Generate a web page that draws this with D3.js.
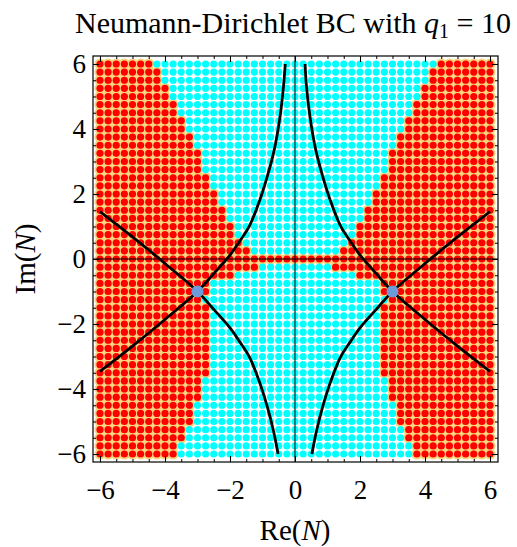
<!DOCTYPE html>
<html><head><meta charset="utf-8">
<script src="https://cdn.jsdelivr.net/npm/d3@7"></script>
<style>body{margin:0;background:#fff}svg{display:block}</style>
</head><body>
<svg id="c" width="517" height="547"></svg>
<script>
// ---- data ----
const gridValues = [-6,-5.75,-5.5,-5.25,-5,-4.75,-4.5,-4.25,-4,-3.75,-3.5,-3.25,-3,-2.75,-2.5,-2.25,-2,-1.75,-1.5,-1.25,-1,-0.75,-0.5,-0.25,0,0.25,0.5,0.75,1,1.25,1.5,1.75,2,2.25,2.5,2.75,3,3.25,3.5,3.75,4,4.25,4.5,4.75,5,5.25,5.5,5.75,6];
const rowY = gridValues.slice().reverse(); // rows from top (6) to bottom (-6)
// last red x on the left for each row (top to bottom)
const leftRedMax = [-4.5,-4.25,-4.25,-4,-4,-3.75,-3.75,-3.5,-3.5,-3.25,-3.25,-3,-3,-3,-2.75,-2.75,-2.5,-2.5,-2.25,-2.25,-2,-2,-1.75,-1.5,6,-1.25,-2,-2.75,-2.75,-3,-2.75,-2.75,-2.75,-2.75,-2.75,-2.75,-2.75,-2.75,-2.75,-3,-3,-3,-3.25,-3.25,-3.25,-3.5,-3.5,-3.75,-3.75];
// first red x on the right for each row (top to bottom)
const rightRedMin = [4.5,4.25,4.25,4,4,3.75,3.75,3.5,3.5,3.25,3.25,3,3,3,2.75,2.75,2.5,2.5,2.25,2.25,2,2,1.75,1.5,-6,1.25,2,2.75,2.75,3,2.75,2.75,2.75,2.75,2.75,2.75,2.75,2.75,2.75,3,3,3,3.25,3.25,3.25,3.5,3.5,3.75,3.75];

const curveALeft = [[-6,-3.46],[-5,-2.68],[-4,-1.86],[-3,-1],[-2.5,-0.45],[-2,0.12],[-1.7,0.55],[-1.4,1.02],[-1.08,1.82],[-0.85,2.55],[-0.64,3.35],[-0.46,4.38],[-0.35,5.35],[-0.3,6]];
const curveBLeft = [[-6,1.46],[-5,0.68],[-4,-0.14],[-3,-1],[-2.5,-1.55],[-2,-2.12],[-1.7,-2.55],[-1.4,-3.02],[-1.08,-3.82],[-0.85,-4.55],[-0.66,-5.3],[-0.52,-6]];
const curveARight = [[6,-3.46],[5,-2.68],[4,-1.86],[3,-1],[2.5,-0.45],[2,0.12],[1.7,0.55],[1.4,1.02],[1.08,1.82],[0.85,2.55],[0.64,3.35],[0.46,4.38],[0.35,5.35],[0.31,6]];
const curveBRight = [[6,1.46],[5,0.68],[4,-0.14],[3,-1],[2.5,-1.55],[2,-2.12],[1.7,-2.55],[1.4,-3.02],[1.08,-3.82],[0.85,-4.55],[0.66,-5.3],[0.52,-6]];
const specialPoints = [[-3,-1],[3,-1]];

const majorTicks = [-6,-4,-2,0,2,4,6];
const minorTicks = [-6,-5.5,-5,-4.5,-4,-3.5,-3,-2.5,-2,-1.5,-1,-0.5,0,0.5,1,1.5,2,2.5,3,3.5,4,4.5,5,5.5,6];

// ---- chart ----
const svg = d3.select('#c');
const L = 93, R = 498, T = 56, B = 462;
const x = d3.scaleLinear().domain([-6.215, 6.246]).range([L, R]);
const y = d3.scaleLinear().domain([-6.246, 6.246]).range([B, T]);
const FONT = "'Liberation Serif', serif";
const RED = '#ff0000', CYAN = '#00ffff', TAN = '#f7d47c';

const pts = [];
rowY.forEach((yy, j) => {
  gridValues.forEach(xx => {
    const red = xx <= leftRedMax[j] + 1e-9 || xx >= rightRedMin[j] - 1e-9;
    pts.push({x: xx, y: yy, red});
  });
});
const redPts = pts.filter(d => d.red), cyanPts = pts.filter(d => !d.red);

svg.append('g').selectAll('circle').data(redPts).join('circle')
  .attr('cx', d => x(d.x)).attr('cy', d => y(d.y)).attr('r', 5.6).attr('fill', TAN);
svg.append('g').selectAll('circle').data(cyanPts).join('circle')
  .attr('cx', d => x(d.x)).attr('cy', d => y(d.y)).attr('r', 3.6).attr('fill', CYAN);
svg.append('g').selectAll('circle').data(redPts).join('circle')
  .attr('cx', d => x(d.x)).attr('cy', d => y(d.y)).attr('r', 3.6).attr('fill', RED);

// zero lines
svg.append('line').attr('x1', L).attr('x2', R).attr('y1', y(0)).attr('y2', y(0)).attr('stroke', '#000').attr('stroke-width', 1);
svg.append('line').attr('y1', T).attr('y2', B).attr('x1', x(0)).attr('x2', x(0)).attr('stroke', '#000').attr('stroke-width', 1);

// curves
const line = d3.line().x(d => x(d[0])).y(d => y(d[1])).curve(d3.curveCatmullRom);
[curveALeft, curveBLeft, curveARight, curveBRight].forEach(c => {
  svg.append('path').attr('d', line(c)).attr('fill', 'none').attr('stroke', '#000').attr('stroke-width', 2.8);
});

svg.append('g').selectAll('circle').data(specialPoints).join('circle')
  .attr('cx', d => x(d[0])).attr('cy', d => y(d[1])).attr('r', 6).attr('fill', '#6b9bd9');

// axes
function ax(gen, tr, vals, size, labels, pad) {
  const a = gen.tickValues(vals).tickSize(-size).tickSizeOuter(0).tickPadding(pad || 3);
  if (!labels) a.tickFormat('');
  const g = svg.append('g').attr('transform', tr).call(a);
  g.select('.domain').remove();
  g.selectAll('line').attr('stroke', '#000').attr('stroke-width', 1);
  g.selectAll('text').attr('font-family', FONT).attr('font-size', 27).attr('fill', '#000');
  return g;
}
ax(d3.axisBottom(x), `translate(0,${B})`, minorTicks, 3, false);
ax(d3.axisTop(x), `translate(0,${T})`, minorTicks, 3, false);
ax(d3.axisLeft(y), `translate(${L},0)`, minorTicks, 3, false);
ax(d3.axisRight(y), `translate(${R},0)`, minorTicks, 3, false);
ax(d3.axisBottom(x), `translate(0,${B})`, majorTicks, 6, true, 18);
ax(d3.axisTop(x), `translate(0,${T})`, majorTicks, 6, false);
ax(d3.axisLeft(y), `translate(${L},0)`, majorTicks, 6, true, 7);
ax(d3.axisRight(y), `translate(${R},0)`, majorTicks, 6, false);

svg.append('rect').attr('x', L).attr('y', T).attr('width', R - L).attr('height', B - T)
  .attr('fill', 'none').attr('stroke', '#000').attr('stroke-width', 1.2);

// title
const title = svg.append('text').attr('x', 293).attr('y', 33).attr('text-anchor', 'middle')
  .attr('font-family', FONT).attr('font-size', 30).attr('fill', '#000');
title.append('tspan').text('Neumann-Dirichlet BC with ');
title.append('tspan').attr('font-style', 'italic').text('q');
title.append('tspan').attr('font-size', 20).attr('dy', 5).text('1');
title.append('tspan').attr('dy', -5).text(' = 10');

// axis labels
const xl = svg.append('text').attr('x', 295).attr('y', 540).attr('text-anchor', 'middle')
  .attr('font-family', FONT).attr('font-size', 29).attr('fill', '#000');
xl.append('tspan').text('Re(');
xl.append('tspan').attr('font-style', 'italic').text('N');
xl.append('tspan').text(')');

const yl = svg.append('text').attr('transform', 'translate(35,259) rotate(-90)').attr('text-anchor', 'middle')
  .attr('font-family', FONT).attr('font-size', 29).attr('fill', '#000');
yl.append('tspan').text('Im(');
yl.append('tspan').attr('font-style', 'italic').text('N');
yl.append('tspan').text(')');
</script>
</body></html>
